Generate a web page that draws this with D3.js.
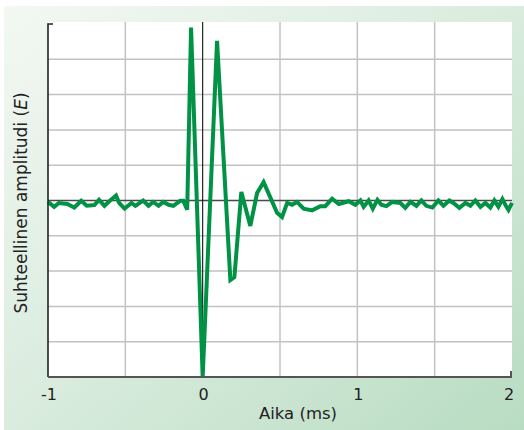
<!DOCTYPE html>
<html>
<head>
<meta charset="utf-8">
<script src="https://cdn.jsdelivr.net/npm/d3@7"></script>
<style>
  html, body { margin: 0; padding: 0; background: #ffffff; }
  svg { display: block; }
</style>
</head>
<body>
<svg id="chart" width="524" height="430"></svg>
<script>
// Impulse response: time (ms) and relative amplitude E
const timeMs = [
  -1.00, -0.96, -0.93, -0.875, -0.83, -0.785, -0.75, -0.70, -0.67, -0.635,
  -0.60, -0.56, -0.54, -0.505, -0.46, -0.435, -0.385, -0.35, -0.32, -0.285,
  -0.255, -0.22, -0.19, -0.145, -0.125, -0.10, -0.075, 0.00, 0.093, 0.179,
  0.205, 0.25, 0.308, 0.352, 0.394, 0.481, 0.513, 0.546, 0.578, 0.61,
  0.653, 0.707, 0.761, 0.793, 0.837, 0.88, 0.944, 0.987, 1.02, 1.041,
  1.073, 1.10, 1.13, 1.155, 1.188, 1.226, 1.278, 1.31, 1.343, 1.382,
  1.414, 1.446, 1.485, 1.524, 1.557, 1.595, 1.621, 1.66, 1.699, 1.731,
  1.763, 1.796, 1.828, 1.86, 1.886, 1.912, 1.938, 1.964, 1.977, 2.00
];
const amplitude = [
  -0.04, -0.18, -0.07, -0.10, -0.20, -0.01, -0.15, -0.13, 0.02, -0.15,
  -0.01, 0.14, -0.07, -0.23, -0.07, -0.15, 0.00, -0.15, -0.04, -0.15,
  -0.04, -0.12, -0.15, -0.01, -0.01, -0.26, 4.90, -5.00, 4.52, -2.25,
  -2.17, 0.24, -0.72, 0.21, 0.52, -0.35, -0.47, -0.07, -0.12, -0.04,
  -0.23, -0.28, -0.16, -0.16, 0.05, -0.10, -0.02, -0.12, 0.00, -0.18,
  0.00, -0.23, 0.02, -0.12, -0.16, -0.04, -0.07, -0.21, -0.04, -0.15,
  0.00, -0.15, -0.20, 0.00, -0.15, 0.00, -0.07, -0.21, -0.07, -0.15,
  0.00, -0.18, -0.07, -0.20, 0.00, -0.18, 0.04, -0.18, -0.27, -0.07
];
const xTickValues = [-1, 0, 1, 2];
const xTickLabels = ["-1", "0", "1", "2"];
const xGridValues = [-0.5, 0.5, 1, 1.5];
const yGridValues = [-4, -3, -2, -1, 1, 2, 3, 4];

const svg = d3.select("#chart");
const W = 524, H = 430;
const plot = { left: 48, right: 512, top: 24, bottom: 377 };

// Panel background with soft green gradient
const defs = svg.append("defs");
const grad = defs.append("linearGradient")
  .attr("id", "panelGrad")
  .attr("x1", "0%").attr("y1", "0%").attr("x2", "100%").attr("y2", "100%");
grad.append("stop").attr("offset", "0%").attr("stop-color", "#f3f8f3");
grad.append("stop").attr("offset", "45%").attr("stop-color", "#dcede0");
grad.append("stop").attr("offset", "100%").attr("stop-color", "#b8dcc2");

svg.append("rect")
  .attr("x", 4).attr("y", 6).attr("width", W - 4).attr("height", H - 6)
  .attr("fill", "url(#panelGrad)");

// White plotting area
svg.append("rect")
  .attr("x", plot.left).attr("y", 22)
  .attr("width", plot.right - plot.left).attr("height", plot.bottom - 22)
  .attr("fill", "#ffffff");

const x = d3.scaleLinear().domain([-1, 2]).range([plot.left, plot.right]);
const y = d3.scaleLinear().domain([-5, 5]).range([plot.bottom, plot.top]);

// Grid
const grid = svg.append("g");
grid.selectAll(".vg").data(xGridValues).enter().append("line")
  .attr("x1", d => x(d)).attr("x2", d => x(d))
  .attr("y1", 22).attr("y2", plot.bottom)
  .attr("stroke", "#c2c2c2").attr("stroke-width", 1.5);
grid.selectAll(".hg").data(yGridValues).enter().append("line")
  .attr("x1", plot.left).attr("x2", plot.right)
  .attr("y1", d => y(d)).attr("y2", d => y(d))
  .attr("stroke", "#c2c2c2").attr("stroke-width", 1.5);

// Zero lines
svg.append("line")
  .attr("x1", plot.left).attr("x2", plot.right)
  .attr("y1", y(0)).attr("y2", y(0))
  .attr("stroke", "#4a4a4a").attr("stroke-width", 1.6);
svg.append("line")
  .attr("x1", x(0)).attr("x2", x(0))
  .attr("y1", 22).attr("y2", plot.bottom)
  .attr("stroke", "#111111").attr("stroke-width", 1.1);

// Signal trace
const pts = timeMs.map((t, i) => [t, amplitude[i]]);
const line = d3.line().x(d => x(d[0])).y(d => y(d[1]));
svg.append("path")
  .datum(pts)
  .attr("d", line)
  .attr("fill", "none")
  .attr("stroke", "#009245")
  .attr("stroke-width", 4)
  .attr("stroke-linejoin", "miter")
  .attr("stroke-miterlimit", 3);

// Axes
svg.append("path")
  .attr("d", `M${plot.left + 5},${plot.top}H${plot.left}V${plot.bottom}`)
  .attr("fill", "none").attr("stroke", "#222").attr("stroke-width", 1.6);
svg.append("path")
  .attr("d", `M${plot.left},${plot.bottom}H${plot.right - 1}V${plot.bottom - 6}`)
  .attr("fill", "none").attr("stroke", "#555").attr("stroke-width", 2);

// Tick labels
const font = "'DejaVu Sans', 'Noto Sans', sans-serif";
svg.selectAll(".xt").data(xTickValues).enter().append("text")
  .attr("x", (d, i) => x(d) + (i === xTickValues.length - 1 ? -3 : 1))
  .attr("y", 400)
  .attr("text-anchor", "middle")
  .attr("font-family", font).attr("font-size", 16)
  .attr("fill", "#222")
  .text((d, i) => xTickLabels[i]);

// Axis titles
svg.append("text")
  .attr("x", 298).attr("y", 419)
  .attr("text-anchor", "middle")
  .attr("font-family", font).attr("font-size", 16.5)
  .attr("fill", "#222")
  .text("Aika (ms)");

const yTitle = svg.append("text")
  .attr("transform", "translate(27,203) rotate(-90)")
  .attr("text-anchor", "middle")
  .attr("font-family", font).attr("font-size", 17)
  .attr("fill", "#222");
yTitle.append("tspan").text("Suhteellinen amplitudi (");
yTitle.append("tspan").attr("font-style", "italic").text("E");
yTitle.append("tspan").text(")");
</script>
</body>
</html>
